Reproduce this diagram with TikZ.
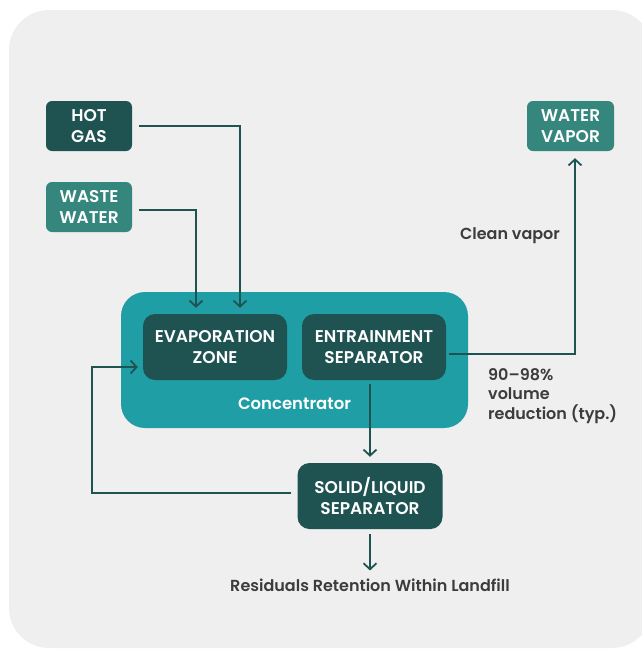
\documentclass[tikz,border=0pt]{standalone}
\usepackage{fontspec}
\setmainfont{Poppins}[BoldFont={Poppins SemiBold}]
\usetikzlibrary{arrows.meta}
\definecolor{panel}{HTML}{EFEFEF}
\definecolor{dark}{HTML}{1F5352}
\definecolor{mid}{HTML}{35877E}
\definecolor{conc}{HTML}{1F9EA6}
\definecolor{txt}{HTML}{3C3C3C}
\tikzset{
  box/.style={rounded corners=6pt, text=white, align=center, inner sep=0pt,
    font=\bfseries\fontsize{17}{20.5}\selectfont},
  darkbox/.style={box, fill=dark},
  midbox/.style={box, fill=mid},
  conn/.style={draw=dark, line width=1.8pt},
  arr/.style={conn, -{Straight Barb[length=6pt,width=13pt,line width=1.8pt]}},
  lbl/.style={text=txt, font=\bfseries\fontsize{16}{19.5}\selectfont, inner sep=0pt}
}
\begin{document}
\begin{tikzpicture}[x=1pt,y=-1pt]
\useasboundingbox (0,0) rectangle (642,649);
\fill[panel, rounded corners=40pt] (9,10) rectangle (652,648);

\node[darkbox, minimum width=86pt, minimum height=50pt] (hot) at (89,126) {HOT\\GAS};
\node[midbox, minimum width=86pt, minimum height=50pt] (waste) at (89,207) {WASTE\\WATER};
\node[midbox, minimum width=87pt, minimum height=50pt] (vapor) at (570.5,126) {WATER\\VAPOR};

\node[fill=conc, rounded corners=24pt, minimum width=347pt, minimum height=136pt, inner sep=0pt] (conc) at (294.5,360) {};
\node[text=white, font=\bfseries\fontsize{16.5}{20}\selectfont, inner sep=0pt] (conclbl) at (294.5,404) {Concentrator};

\node[darkbox, rounded corners=12pt, minimum width=144pt, minimum height=66pt] (evap) at (215,347) {EVAPORATION\\ZONE};
\node[darkbox, rounded corners=12pt, minimum width=144pt, minimum height=66pt] (entr) at (374,347) {ENTRAINMENT\\SEPARATOR};
\node[darkbox, rounded corners=12pt, minimum width=145pt, minimum height=66pt] (solid) at (370,496) {SOLID/LIQUID\\SEPARATOR};

\node[lbl] (clean) at (510,236) {Clean vapor};
\node[lbl, anchor=west, align=left] (vol) at (488,396) {90–98\%\\volume\\reduction (typ.)};
\node[lbl] (resid) at (370,585) {Residuals Retention Within Landfill};

\coordinate (rc) at (92,367);

\draw[arr, shorten <=7pt, shorten >=6pt] (hot.east) -| ([xshift=25pt]evap.north);
\draw[arr, shorten <=7pt, shorten >=6pt] ([yshift=-3pt]waste.east) -| ([xshift=-19pt]evap.north);
\draw[arr, shorten <=3pt, shorten >=7pt] ([yshift=-7pt]entr.east) -| ([xshift=4.5pt]vapor.south);
\draw[arr, shorten <=4pt, shorten >=6pt] (solid.north |- entr.south) -- (solid.north);
\draw[arr, shorten <=6pt, shorten >=5pt] ([yshift=3pt]solid.west) -| (rc) -- (evap.west |- rc);
\draw[arr, shorten <=5pt, shorten >=8pt] (solid.south) -- (resid.north);
\end{tikzpicture}
\end{document}
